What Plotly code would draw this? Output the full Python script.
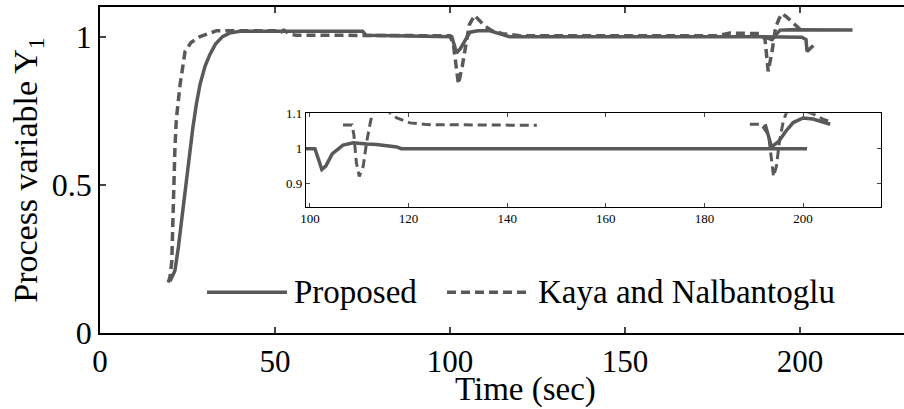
import plotly.graph_objects as go

# ---------------- data ----------------
main_prop_x = [20, 20.5, 21.4, 22.4, 23.5, 24.5, 25.5, 26.5, 27.5, 28.6, 30, 31.4, 33, 35, 37, 40, 75, 76,
               100.5, 101.9, 103, 104.5, 105.7, 108, 111.4, 115, 117, 189, 200.5, 201.7, 202, 203.8,
               None, 189.5, 191, 192, 193, 194.3, 197, 215]
main_prop_y = [0.175, 0.19, 0.21, 0.29, 0.40, 0.5, 0.6, 0.69, 0.77, 0.84, 0.9, 0.94, 0.975, 1.0, 1.012, 1.018, 1.018, 1.005,
               1.0, 0.945, 0.96, 0.99, 1.015, 1.02, 1.02, 1.007, 1.0, 1.0, 0.998, 0.99, 0.95, 0.97,
               None, 1.0, 0.995, 0.99, 1.005, 1.022, 1.023, 1.022]

main_kaya_x = [19.5, 20, 20.5, 20.9, 21.4, 21.8, 22.9, 24.3, 26, 28.6, 31, 33.3, 50, 51.4, 52.5, 54.3, 56,
               100, 101, 102.4, 103.5, 104.5, 105.5, 107, 108.5, 110, 112, 115, 120, 176, 180, 189, 190,
               190.9, 192, 193, 194, 194.8, 196, 198, 200]
main_kaya_y = [0.17, 0.19, 0.24, 0.45, 0.62, 0.72, 0.84, 0.95, 0.98, 1.0, 1.01, 1.02, 1.02, 1.012, 1.022, 1.008, 1.005,
               1.003, 0.97, 0.84, 0.9, 0.98, 1.04, 1.072, 1.055, 1.035, 1.02, 1.01, 1.003, 1.003, 1.012, 1.01, 0.99,
               0.883, 0.95, 1.03, 1.06, 1.078, 1.068, 1.045, 1.025]

inset_prop_x = [99.2, 101, 101.7, 102.4, 103.2, 104.5, 106.7, 108.8, 111.5, 113.5, 117.6, 118.5, 200.8,
                None, 192.3, 193.6, 195, 196.5, 198, 200, 202, 204, 205.5]
inset_prop_y = [1.0, 1.0, 0.97, 0.94, 0.95, 0.985, 1.01, 1.017, 1.013, 1.012, 1.005, 1.0, 1.0,
                None, 1.07, 1.005, 1.02, 1.05, 1.075, 1.088, 1.085, 1.075, 1.07]

inset_kaya_x = [106.7, 108.5, 108.9, 109.4, 110.0, 110.8, 111.5, 112.3, 113, 114.5, 116, 117.6, 120.3, 123.7, 146,
                None, 189.2, 191.5, 193, 193.6, 194, 194.6, 195.2, 196, 196.8, 200, 202, 204, 206]
inset_kaya_y = [1.068, 1.068, 1.04, 0.96, 0.92, 0.95, 1.02, 1.08, 1.115, 1.115, 1.105, 1.088, 1.074, 1.069, 1.067,
                None, 1.07, 1.07, 1.04, 0.96, 0.92, 0.95, 1.02, 1.08, 1.11, 1.11, 1.1, 1.085, 1.075]

main_xticks = [0, 50, 100, 150, 200]
main_yticks = [0, 0.5, 1]
main_yticklabels = ["0", "0.5", "1"]
inset_xticks = [100, 120, 140, 160, 180, 200]
inset_yticks = [0.9, 1.0, 1.1]
inset_yticklabels = ["0.9", "1", "1.1"]
series_names = ["Proposed", "Kaya and Nalbantoglu"]

# ---------------- figure ----------------
LINE = "#595959"
FONT = "Times New Roman, Liberation Serif, Times, serif"

fig = go.Figure()
fig.add_trace(go.Scatter(x=main_prop_x, y=main_prop_y, mode="lines", name=series_names[0],
                         line=dict(color=LINE, width=3.5), connectgaps=False))
fig.add_trace(go.Scatter(x=main_kaya_x, y=main_kaya_y, mode="lines", name=series_names[1],
                         line=dict(color=LINE, width=3.5, dash="9px,5px"), connectgaps=False))
fig.add_trace(go.Scatter(x=inset_prop_x, y=inset_prop_y, mode="lines", xaxis="x2", yaxis="y2",
                         line=dict(color=LINE, width=3.5), connectgaps=False, showlegend=False))
fig.add_trace(go.Scatter(x=inset_kaya_x, y=inset_kaya_y, mode="lines", xaxis="x2", yaxis="y2",
                         line=dict(color=LINE, width=3, dash="9px,5px"), connectgaps=False, showlegend=False))

W, H = 904, 409
L, R, T, B = 100, 0, 5, 76
pw, ph = W - L - R, H - T - B


def px2paper_x(px):
    return (px - L) / pw


def px2paper_y(py):
    return (H - B - py) / ph


fig.update_layout(
    width=W, height=H,
    margin=dict(l=L, r=R, t=T, b=B),
    plot_bgcolor="white", paper_bgcolor="white",
    showlegend=False,
    font=dict(family=FONT, color="black"),
    xaxis=dict(range=[0, 229.7], tickvals=main_xticks, ticks="inside", ticklen=6, tickwidth=1.5,
               showline=True, linecolor="black", linewidth=1.5, mirror="ticks",
               showgrid=False, zeroline=False, tickfont=dict(size=31, family=FONT)),
    yaxis=dict(range=[0, 1.1], tickvals=main_yticks, ticktext=main_yticklabels, ticks="inside",
               ticklen=6, tickwidth=1.5, showline=True, linecolor="black", linewidth=1.5,
               showgrid=False, zeroline=False, tickfont=dict(size=32, family=FONT),
               title=dict(text="Process variable Y<sub>1</sub>", font=dict(size=34, family=FONT), standoff=4)),
    xaxis2=dict(domain=[px2paper_x(306), px2paper_x(881)], anchor="y2", range=[99.19, 215.8],
                tickvals=inset_xticks, ticks="inside", ticklen=4, tickwidth=1.2,
                showline=True, linecolor="black", linewidth=1.2, mirror="ticks",
                showgrid=False, zeroline=False, tickfont=dict(size=13, family=FONT)),
    yaxis2=dict(domain=[px2paper_y(206), px2paper_y(112)], anchor="x2", range=[0.8329, 1.1014],
                tickvals=inset_yticks, ticktext=inset_yticklabels, ticks="inside", ticklen=4, tickwidth=1.2,
                showline=True, linecolor="black", linewidth=1.2, mirror="ticks",
                showgrid=False, zeroline=False, tickfont=dict(size=13, family=FONT)),
)

# x-axis title (placed like the original, slightly right of the visible centre)
fig.add_annotation(text="Time (sec)", xref="paper", yref="paper", x=px2paper_x(525), y=px2paper_y(390),
                   xanchor="center", yanchor="middle", showarrow=False, font=dict(size=33, family=FONT))

# legend drawn inside the plot (long line samples as in the original)
leg_y = px2paper_y(292)
fig.add_shape(type="line", xref="paper", yref="paper", x0=px2paper_x(207), x1=px2paper_x(287), y0=leg_y, y1=leg_y,
              line=dict(color=LINE, width=3.5))
fig.add_shape(type="line", xref="paper", yref="paper", x0=px2paper_x(447), x1=px2paper_x(527), y0=leg_y, y1=leg_y,
              line=dict(color=LINE, width=3.5, dash="9px,5px"))
fig.add_annotation(text=series_names[0], xref="paper", yref="paper", x=px2paper_x(292), y=leg_y,
                   xanchor="left", yanchor="middle", showarrow=False, font=dict(size=33, family=FONT))
fig.add_annotation(text=series_names[1], xref="paper", yref="paper", x=px2paper_x(536), y=leg_y,
                   xanchor="left", yanchor="middle", showarrow=False, font=dict(size=33, family=FONT))

fig.write_html("out.html")
